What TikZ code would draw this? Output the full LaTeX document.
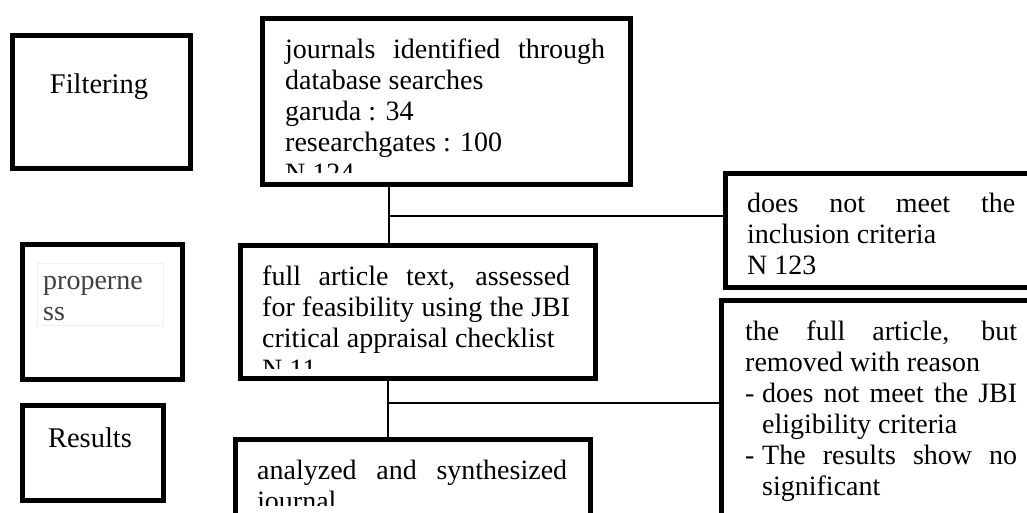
\documentclass[tikz,border=0pt]{standalone}
\usepackage{fontspec}
\setmainfont{Liberation Serif}
\begin{document}
\begin{tikzpicture}[x=1pt,y=-1pt,
  box/.style={draw, line width=4.5pt, inner sep=0pt, anchor=north west},
  txt/.style={anchor=base west, inner sep=0pt, font=\fontsize{28}{31}\selectfont},
  lbl/.style={anchor=base, inner sep=0pt, font=\fontsize{28.5}{31}\selectfont},
  conn/.style={draw, line width=1.8pt}]
\clip (0,0) rectangle (1027,512);
\fill[white] (0,0) rectangle (1027,512);

% side labels
\node[box, minimum width=178pt, minimum height=133pt] (filt) at (10,33) {};
\node[lbl] (filtt) at (99,93) {Filtering};

\node[box, minimum width=160pt, minimum height=135pt] (prop) at (20,242) {};
\draw[black!6, line width=0.8pt] (37,263) rectangle (163,325);
\node[txt, text=black!75] (propt) at (43,289) {\parbox[t]{115pt}{properne\\ss}};

\node[box, minimum width=141pt, minimum height=95pt] (res) at (20,403) {};
\node[lbl] (rest) at (90,447) {Results};

% main boxes
\node[box, minimum width=368pt, minimum height=166pt] (jour) at (260,16) {};
\begin{scope}
\clip (262,18) rectangle (626,172);
\node[txt] (jourt) at (285,58) {\parbox[t]{320pt}{\makebox[320pt][s]{journals identified through}\\database searches\\garuda : 34\\researchgates : 100\\N 124}};
\end{scope}

\node[box, minimum width=355pt, minimum height=133pt] (full) at (238,243) {};
\begin{scope}
\clip (240,245) rectangle (591,368);
\node[txt] (fullt) at (262,285) {\parbox[t]{308pt}{\makebox[308pt][s]{full article text, assessed}\\\makebox[308pt][s]{for feasibility using the JBI}\\critical appraisal checklist\\N 11}};
\end{scope}

\node[box, minimum width=355pt, minimum height=120pt] (anal) at (233,437) {};
\begin{scope}
\clip (235,439) rectangle (586,505);
\node[txt] (analt) at (257,479) {\parbox[t]{310pt}{\makebox[310pt][s]{analyzed and synthesized}\\journal}};
\end{scope}

% right boxes
\node[box, minimum width=330pt, minimum height=114pt] (excl) at (723,171) {};
\node[txt] (exclt) at (747,212) {\parbox[t]{268pt}{\makebox[268pt][s]{does not meet the}\\inclusion criteria\\N 123}};

\node[box, minimum width=330pt, minimum height=250pt] (rem) at (719,298) {};
\node[txt] (remt) at (745,340) {\parbox[t]{272pt}{\makebox[272pt][s]{the full article, but}\\removed with reason\\\makebox[17pt][l]{-}\makebox[255pt][s]{does not meet the JBI}\\\hspace*{17pt}eligibility criteria\\\makebox[17pt][l]{-}\makebox[255pt][s]{The results show no}\\\hspace*{17pt}significant}};

% connectors
\coordinate (v1) at (389,216);
\coordinate (v2) at (388,403);
\draw[conn] (v1 |- jour.south) -- (v1 |- full.north);
\draw[conn] (v1) -- (v1 -| excl.west);
\draw[conn] (v2 |- full.south) -- (v2 |- anal.north);
\draw[conn] (v2) -- (v2 -| rem.west);
\end{tikzpicture}
\end{document}
